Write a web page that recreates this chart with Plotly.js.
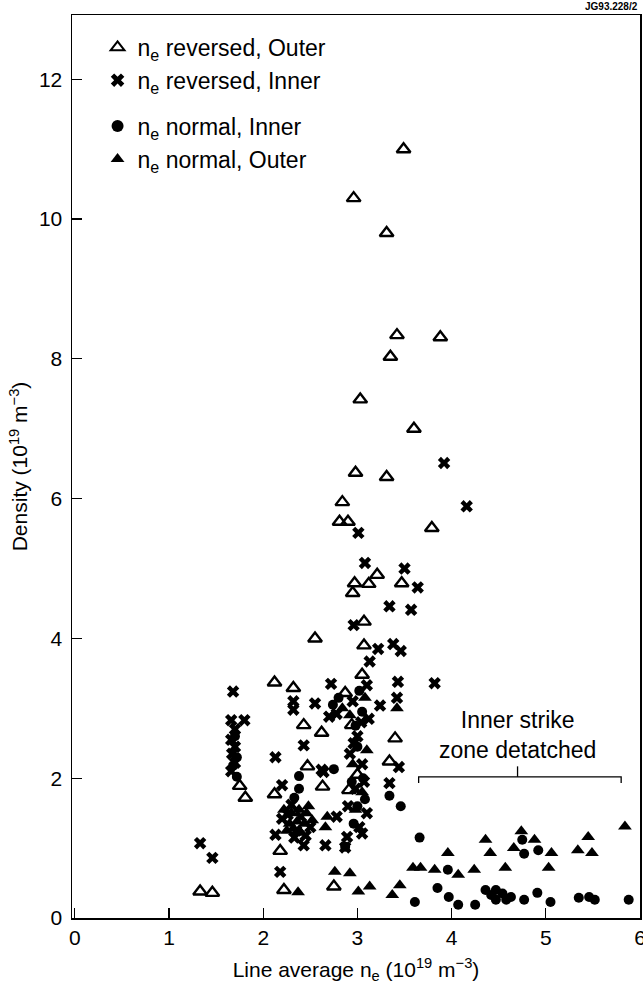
<!DOCTYPE html>
<html>
<head>
<meta charset="utf-8">
<script src="https://cdn.plot.ly/plotly-3.0.1.min.js"></script>
<style>html,body{margin:0;padding:0;background:#fff;}#chart{width:643px;height:987px;}</style>
</head>
<body>
<div id="chart"></div>
<script>
// n_e reversed, Outer (open triangles)
const revOuterX = [3.49,2.96,3.31,3.42,3.88,3.35,3.03,3.60,2.98,3.31,2.84,2.81,2.90,3.79,3.21,2.97,3.12,3.47,2.95,3.07,2.55,3.07,3.05,2.12,2.32,2.87,2.43,2.62,2.94,3.40,2.47,3.34,1.75,1.81,2.12,2.63,2.91,2.18,2.22,2.75,1.33,1.46,3.00];
const revOuterY = [11.0,10.3,9.8,8.34,8.31,8.03,7.42,7.0,6.37,6.31,5.95,5.67,5.67,5.58,4.91,4.79,4.78,4.79,4.65,4.24,4.0,3.9,3.48,3.37,3.29,3.22,2.76,2.65,2.76,2.57,2.17,2.24,1.89,1.72,1.77,1.88,1.83,0.96,0.40,0.45,0.38,0.36,2.05];

// n_e reversed, Inner (crosses)
const revInnerX = [3.92,4.16,3.01,3.08,3.50,3.64,3.34,3.57,2.96,3.22,3.38,3.46,3.13,3.43,3.82,3.10,3.24,3.42,3.44,3.34,1.68,1.66,1.80,1.70,1.66,1.70,1.67,1.70,1.66,1.33,1.46,2.32,2.32,2.55,2.43,2.13,2.64,2.20,2.13,2.66,2.43,2.89,2.18,2.72,2.78,2.70,3.05,2.87,2.30,2.35,2.45,2.20,2.95,3.00,3.05,2.98,3.10,2.92,3.12,2.62,2.78,2.26,2.40,2.50,2.33,3.04,2.96,3.07,3.02,2.90];
const revInnerY = [6.51,5.89,5.51,5.08,5.00,4.73,4.46,4.41,4.19,3.85,3.92,3.82,3.67,3.38,3.36,3.33,3.04,3.15,2.16,1.93,3.24,2.83,2.83,2.70,2.55,2.45,2.35,2.22,2.10,1.07,0.86,3.10,2.98,3.07,2.47,2.30,2.09,1.90,1.19,1.04,1.04,1.16,0.66,3.35,2.92,2.88,1.21,1.01,1.62,1.25,1.18,1.42,3.10,2.60,2.20,1.85,1.50,2.35,2.85,2.12,1.45,1.48,1.45,1.30,1.15,2.80,2.50,1.95,1.30,1.60];

// n_e normal, Inner (filled circles)
const normInnerX = [3.66,3.61,3.85,3.97,4.07,4.25,4.36,4.42,4.47,4.47,4.54,4.58,4.63,4.77,4.91,5.05,5.35,5.46,5.52,5.88,4.75,4.77,4.92,3.96,3.46,3.34,2.75,2.38,2.38,2.33,2.74,2.80,1.70,1.72,1.68,1.72,3.05,3.00,3.08,2.96,2.87,3.02,2.98,3.06,3.00,2.94];
const normInnerY = [1.15,0.23,0.43,0.30,0.19,0.19,0.40,0.33,0.26,0.40,0.35,0.26,0.30,0.26,0.36,0.23,0.29,0.30,0.26,0.26,1.12,0.92,0.97,0.69,1.60,1.75,2.13,2.03,1.85,1.72,3.05,3.15,2.60,2.30,2.18,2.02,2.95,2.45,1.70,1.35,1.02,3.25,2.75,2.00,1.60,1.95];

// n_e normal, Outer (filled triangles)
const normOuterX = [3.59,3.67,3.82,3.96,4.07,4.24,4.36,4.41,4.57,4.66,4.74,4.88,5.06,5.03,5.34,5.45,5.49,5.84,3.01,3.13,3.37,3.45,2.92,2.76,2.37,2.68,2.66,2.22,2.30,2.38,2.46,2.28,2.36,2.44,2.52,2.25,2.40,2.84,2.98,3.05,2.95,3.10,3.42,3.08,2.92,2.32,2.48];
const normOuterY = [0.72,0.72,0.69,0.93,0.62,0.69,1.12,0.93,0.72,1.00,1.24,1.12,0.93,0.72,0.97,1.16,0.93,1.31,0.38,0.45,0.33,0.47,0.64,0.66,0.37,1.45,1.30,1.55,1.50,1.55,1.50,1.35,1.38,1.35,1.40,1.25,1.22,3.00,1.55,1.80,2.20,2.40,3.00,3.15,2.90,1.28,1.60];

const seriesNames = [
  "n<sub>e</sub> reversed, Outer",
  "n<sub>e</sub> reversed, Inner",
  "n<sub>e</sub> normal, Inner",
  "n<sub>e</sub> normal, Outer"
];

const FONT = "Liberation Sans, Arial, Helvetica, sans-serif";

const traces = [
  {x: revOuterX, y: revOuterY, name: seriesNames[0], legendgroup: "rev", type: "scatter", mode: "markers",
   marker: {symbol: "triangle-up-open", size: 12, color: "#000", line: {width: 2.4, color: "#000"}}},
  {x: revInnerX, y: revInnerY, name: seriesNames[1], legendgroup: "rev", type: "scatter", mode: "markers",
   marker: {symbol: "x", size: 11, color: "#000", line: {width: 0}}},
  {x: normInnerX, y: normInnerY, name: seriesNames[2], legendgroup: "norm", type: "scatter", mode: "markers",
   marker: {symbol: "circle", size: 10, color: "#000"}},
  {x: normOuterX, y: normOuterY, name: seriesNames[3], legendgroup: "norm", type: "scatter", mode: "markers",
   marker: {symbol: "triangle-up", size: 12, color: "#000"}}
];

const layout = {
  width: 643, height: 987,
  margin: {l: 72, r: 3, t: 15, b: 69, pad: 0},
  paper_bgcolor: "#fff", plot_bgcolor: "#fff",
  font: {family: FONT, size: 21, color: "#000"},
  showlegend: true,
  legend: {x: 0.045, y: 0.988, xanchor: "left", yanchor: "top", bgcolor: "rgba(0,0,0,0)",
           traceorder: "grouped", tracegroupgap: 13, itemsizing: "constant",
           font: {family: FONT, size: 23, color: "#000"}},
  xaxis: {range: [-0.03, 6.0], tickvals: [0,1,2,3,4,5,6], ticks: "inside", ticklen: 10, tickwidth: 1.2,
          tickcolor: "#000", showline: true, mirror: true, linecolor: "#000", linewidth: 1.5,
          showgrid: false, zeroline: false, tickfont: {size: 21}, ticklabeloverflow: "allow",
          title: {text: "Line average n<sub>e</sub> (10<sup>19</sup> m<sup>\u22123</sup>)", font: {size: 21}, standoff: 14}},
  yaxis: {range: [0, 12.92], tickvals: [0,2,4,6,8,10,12], ticks: "inside", ticklen: 10, tickwidth: 1.2,
          tickcolor: "#000", showline: true, mirror: true, linecolor: "#000", linewidth: 1.5,
          showgrid: false, zeroline: false, tickfont: {size: 21}, ticklabelstandoff: 4,
          title: {text: "Density (10<sup>19</sup> m<sup>\u22123</sup>)", font: {size: 21}, standoff: 5}},
  shapes: [
    {type: "path", xref: "x", yref: "y", path: "M3.65,1.93 L3.65,2.02 L5.80,2.02 L5.80,1.93", line: {color: "#000", width: 1.3}},
    {type: "line", xref: "x", yref: "y", x0: 4.7, x1: 4.7, y0: 2.02, y1: 2.17, line: {color: "#000", width: 1.3}}
  ],
  annotations: [
    {xref: "x", yref: "y", x: 4.7, y: 2.62, text: "Inner strike<br>zone detatched", showarrow: false,
     font: {size: 23, family: FONT, color: "#000"}, align: "center"},
    {xref: "paper", yref: "paper", x: 1, y: 1, yshift: 9, xanchor: "right", yanchor: "middle",
     text: "<b>JG93.228/2</b>", showarrow: false, font: {size: 10, family: FONT, color: "#000"}}
  ]
};

Plotly.newPlot("chart", traces, layout, {displayModeBar: false, staticPlot: true});
</script>
</body>
</html>
